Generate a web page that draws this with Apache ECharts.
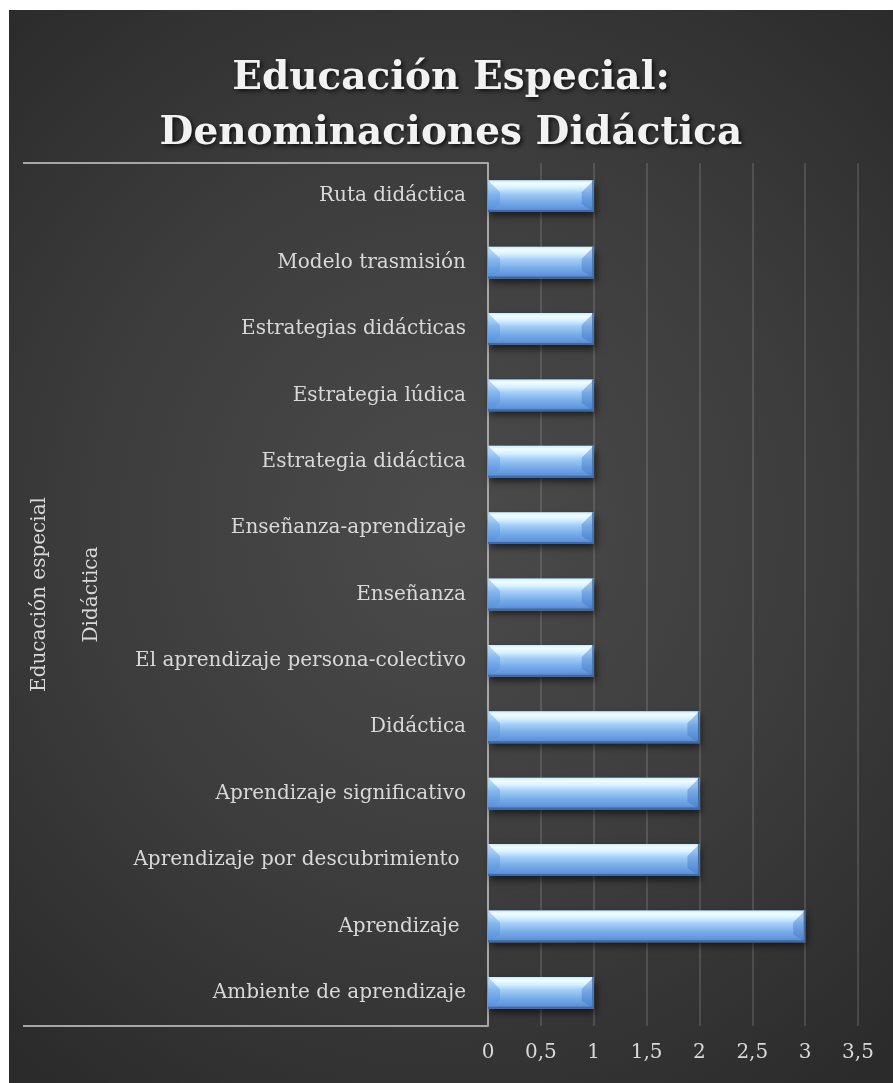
<!DOCTYPE html>
<html>
<head>
<meta charset="utf-8">
<script src="https://cdn.jsdelivr.net/npm/echarts@6/dist/echarts.min.js"></script>
<style>
  html, body { margin: 0; padding: 0; background: #ffffff; }
  #chart {
    position: absolute; left: 9px; top: 10px; width: 884px; height: 1073px;
    background: radial-gradient(ellipse 75% 65% at 50% 48%, #4b4b4b 0%, #3c3c3c 55%, #2b2b2b 100%);
  }
</style>
</head>
<body>
<div id="chart"></div>
<script>
// Categories from top to bottom
const categories = [
  'Ruta didáctica',
  'Modelo trasmisión',
  'Estrategias didácticas',
  'Estrategia lúdica',
  'Estrategia didáctica',
  'Enseñanza-aprendizaje',
  'Enseñanza',
  'El aprendizaje persona-colectivo',
  'Didáctica',
  'Aprendizaje significativo',
  'Aprendizaje por descubrimiento ',
  'Aprendizaje ',
  'Ambiente de aprendizaje'
];
const values = [1, 1, 1, 1, 1, 1, 1, 1, 2, 2, 2, 3, 1];
// Outer grouping levels of the category axis
const groupLabels = ['Educación especial', 'Didáctica'];
const titleLines = ['Educación Especial:', 'Denominaciones Didáctica'];

const FONT = 'DejaVu Serif';
const GRID = { left: 479, top: 153, right: 35, bottom: 57 };

const chart = echarts.init(document.getElementById('chart'), null, { renderer: 'canvas' });

// Bevelled blue bar
function renderBar(params, api) {
  const cat = api.value(0);
  const val = api.value(1);
  const start = api.coord([0, cat]);
  const end = api.coord([val, cat]);
  const band = api.size([0, 1])[1];
  const h = band * 0.48;
  const x0 = start[0], x1 = end[0];
  const y0 = start[1] - h / 2, y1 = start[1] + h / 2;
  const bs = 12, bb = 8;
  return {
    type: 'group',
    children: [
      { type: 'rect', shape: { x: x0, y: y0, width: x1 - x0, height: h },
        style: { fill: '#5d8fd3', shadowBlur: 7, shadowOffsetX: 2, shadowOffsetY: 4, shadowColor: 'rgba(0,0,0,0.6)' } },
      { type: 'rect', shape: { x: x0, y: y0, width: x1 - x0, height: h },
        style: { fill: new echarts.graphic.LinearGradient(0, 0, 0, 1, [
          { offset: 0, color: '#c8ecff' },
          { offset: 0.1, color: '#f2fdff' },
          { offset: 0.24, color: '#d6f0ff' },
          { offset: 0.42, color: '#a2cdf6' },
          { offset: 0.66, color: '#7aaeea' },
          { offset: 0.9, color: '#5f94dc' },
          { offset: 1, color: '#4a7dc2' }
        ]) } },
      // left bevel
      { type: 'polygon', shape: { points: [[x0, y0], [x0 + bs, y0 + bs], [x0 + bs, y1 - bb], [x0, y1]] },
        style: { fill: 'rgba(85,145,220,0.38)' } },
      // right bevel
      { type: 'polygon', shape: { points: [[x1, y0], [x1 - bs, y0 + bs], [x1 - bs, y1 - bb], [x1, y1]] },
        style: { fill: 'rgba(60,115,195,0.4)' } },
      // lower rim
      { type: 'rect', shape: { x: x0, y: y1 - 2, width: x1 - x0, height: 2 },
        style: { fill: '#3c6aa8' } },
      { type: 'rect', shape: { x: x1 - 1.5, y: y0, width: 1.5, height: h },
        style: { fill: '#3f6eae' } }
    ]
  };
}

const option = {
  animation: false,
  backgroundColor: 'transparent',
  title: {
    text: titleLines.join('\n'),
    left: 'center',
    top: 36,
    textStyle: {
      fontFamily: FONT, fontWeight: 'bold', fontSize: 39, lineHeight: 55,
      color: '#f2f2f2',
      textShadowColor: 'rgba(0,0,0,0.75)', textShadowBlur: 4,
      textShadowOffsetX: 2, textShadowOffsetY: 2
    }
  },
  grid: { left: GRID.left, top: GRID.top, right: GRID.right, bottom: GRID.bottom, containLabel: false },
  xAxis: {
    type: 'value', min: 0, max: 3.5, interval: 0.5,
    axisLine: { show: false }, axisTick: { show: false },
    splitLine: { show: true, lineStyle: { color: 'rgba(255,255,255,0.13)', width: 2 } },
    axisLabel: {
      color: '#d9d9d9', fontFamily: FONT, fontSize: 20, margin: 17,
      formatter: v => String(v).replace('.', ',')
    }
  },
  yAxis: {
    type: 'category', data: categories, inverse: true,
    axisLine: { show: true, lineStyle: { color: '#a6a6a6', width: 2 } },
    axisTick: { show: false },
    axisLabel: { color: '#d9d9d9', fontFamily: FONT, fontSize: 20, margin: 22 }
  },
  series: [{
    type: 'custom',
    renderItem: renderBar,
    encode: { x: 1, y: 0 },
    data: values.map((v, i) => [i, v])
  }]
};
chart.setOption(option);

// Outer frame and group titles of the multi-level category axis
const H = chart.getHeight();
const axisX = GRID.left;
const yTop = GRID.top, yBot = H - GRID.bottom;
const yMid = (yTop + yBot) / 2;
const lineStyle = { stroke: '#a6a6a6', lineWidth: 2 };
chart.setOption({
  graphic: [
    { type: 'line', shape: { x1: 14, y1: yTop, x2: axisX, y2: yTop }, style: lineStyle },
    { type: 'line', shape: { x1: 14, y1: yBot, x2: axisX, y2: yBot }, style: lineStyle },
    { type: 'text', x: 31, y: yMid, rotation: Math.PI / 2,
      style: { text: groupLabels[0], fill: '#d9d9d9', font: '20px "' + FONT + '"', align: 'center', verticalAlign: 'middle' } },
    { type: 'text', x: 83, y: yMid, rotation: Math.PI / 2,
      style: { text: groupLabels[1], fill: '#d9d9d9', font: '20px "' + FONT + '"', align: 'center', verticalAlign: 'middle' } }
  ]
});
</script>
</body>
</html>
